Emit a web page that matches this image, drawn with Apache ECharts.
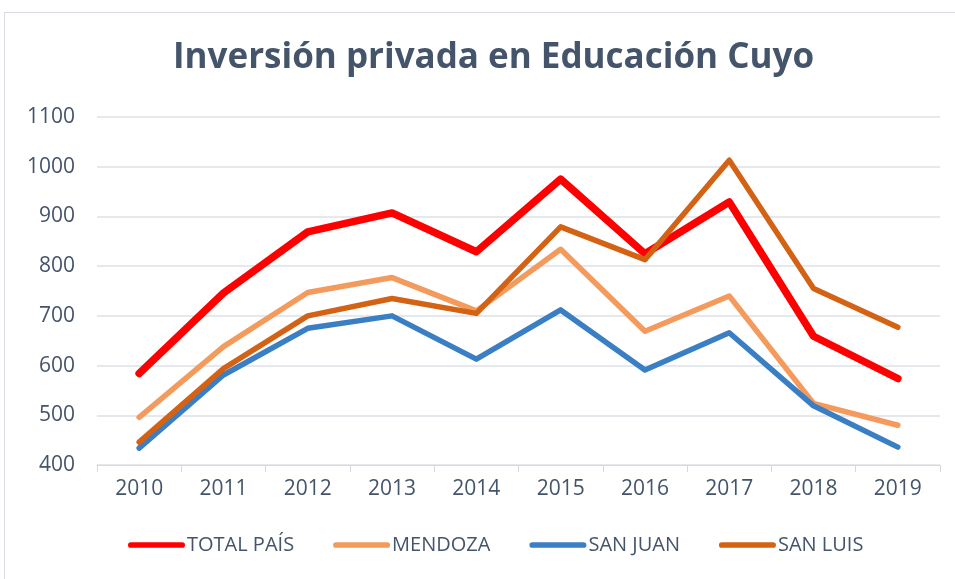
<!DOCTYPE html>
<html>
<head>
<meta charset="utf-8">
<script src="https://cdn.jsdelivr.net/npm/echarts@6/dist/echarts.min.js"></script>
<style>
  html, body { margin: 0; padding: 0; background: #fff; }
  #frame { position: absolute; left: 4px; top: 12px; width: 960px; height: 580px; border: 1px solid #d9dde3; box-sizing: border-box; }
  #chart { position: absolute; left: 0; top: 0; width: 955px; height: 579px; }
</style>
</head>
<body>
<div id="frame"></div>
<div id="chart"></div>
<script>
  // data
  const years = ['2010', '2011', '2012', '2013', '2014', '2015', '2016', '2017', '2018', '2019']
  const totalPais = [584, 746, 869, 907, 829, 975, 825, 929, 659, 574]
  const mendoza = [496, 638, 747, 777, 710, 834, 669, 740, 524, 480]
  const sanJuan = [434, 581, 675, 700, 613, 712, 591, 666, 519, 436]
  const sanLuis = [446, 594, 700, 735, 705, 879, 813, 1013, 755, 677]

  const textColor = '#44546A'
  const font = '"Open Sans", sans-serif'
  const legendIcon = 'path://M3,0 L57,0 A3,3 0 0 1 57,6 L3,6 A3,3 0 0 1 3,0 Z'

  function line(name, data, color, width) {
    return {
      name: name,
      type: 'line',
      data: data,
      symbol: 'none',
      color: color,
      lineStyle: { color: color, width: width, cap: 'round', join: 'round' }
    }
  }

  const chart = echarts.init(document.getElementById('chart'))
  chart.setOption({
    animation: false,
    title: {
      text: 'Inversión privada en Educación Cuyo',
      left: 168,
      top: 36,
      textStyle: { fontFamily: font, fontSize: 35, fontWeight: 'bold', color: textColor }
    },
    legend: {
      bottom: 19,
      left: 123,
      icon: legendIcon,
      itemWidth: 57,
      itemHeight: 6,
      itemGap: 39,
      textStyle: { fontFamily: font, fontSize: 20, color: textColor, padding: [0, 0, 0, -3] }
    },
    grid: { left: 97, right: 15, top: 117, bottom: 114 },
    xAxis: {
      type: 'category',
      data: years,
      boundaryGap: true,
      axisLine: { lineStyle: { color: '#d9d9d9', width: 1 } },
      axisTick: { show: true, length: 7, lineStyle: { color: '#d9d9d9' } },
      axisLabel: { fontFamily: font, fontSize: 21, color: textColor, margin: 14 }
    },
    yAxis: {
      type: 'value',
      min: 400,
      max: 1100,
      interval: 100,
      axisLine: { show: false },
      axisTick: { show: false },
      axisLabel: { fontFamily: font, fontSize: 21, color: textColor, margin: 22, formatter: v => String(v) },
      splitLine: { lineStyle: { color: '#dde1e7', width: 1.5 } }
    },
    series: [
      line('TOTAL PAÍS', totalPais, '#ff0000', 7.5),
      line('MENDOZA', mendoza, '#f39a5c', 5.5),
      line('SAN JUAN', sanJuan, '#3a7ec4', 5.5),
      line('SAN LUIS', sanLuis, '#d36215', 5.5)
    ]
  })
</script>
</body>
</html>
